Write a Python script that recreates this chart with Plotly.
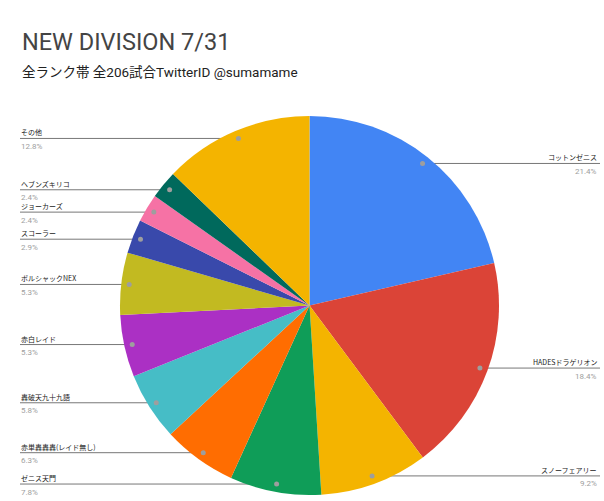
import math
import plotly.graph_objects as go

labels = ["コットンゼニス", "HADESドラゲリオン", "スノーフェアリー", "ゼニス天門",
          "赤単轟轟轟(レイド無し)", "轟破天九十九語", "赤白レイド", "ボルシャックNEX",
          "スコーラー", "ジョーカーズ", "ヘブンズキリコ", "その他"]
values = [21.4, 18.4, 9.2, 7.8, 6.3, 5.8, 5.3, 5.3, 2.9, 2.4, 2.4, 12.8]
colors = ["#4285F4", "#DB4437", "#F4B400", "#0F9D58", "#FF6D01", "#46BDC6",
          "#AB30C4", "#C2BA21", "#3949AB", "#F672A5", "#00695C", "#F4B400"]

W, H = 604, 501
# pie geometry in pixels
cx, cy, R = 309.5, 305.5, 189.5

fig = go.Figure()
fig.add_trace(go.Pie(
    labels=labels, values=values, sort=False, direction="clockwise", rotation=0,
    marker=dict(colors=colors, line=dict(width=0)),
    textinfo="none", hoverinfo="label+percent", showlegend=False,
    domain=dict(x=[(cx - R) / W, (cx + R) / W], y=[1 - (cy + R) / H, 1 - (cy - R) / H]),
))

total = sum(values)
cum = 0.0
shapes, annotations = [], []
for lab, v in zip(labels, values):
    mid = (cum + v / 2) / total * 2 * math.pi
    cum += v
    r = R * 0.958
    px = cx + r * math.sin(mid)
    py = cy - r * math.cos(mid)
    pct = f"{v / total * 100:.1f}%"
    if math.sin(mid) >= 0:
        x0, x1, tx, anchor = px, 600, 598, "right"
    else:
        x0, x1, tx, anchor = 20, px, 20, "left"
    shapes.append(dict(type="line", xref="x", yref="y", x0=x0, x1=x1, y0=py, y1=py,
                       line=dict(color="#777777", width=1), layer="below"))
    shapes.append(dict(type="circle", xref="x", yref="y", x0=px - 2.5, x1=px + 2.5,
                       y0=py - 2.5, y1=py + 2.5, fillcolor="#9e9e9e",
                       line=dict(width=0), layer="above"))
    annotations.append(dict(x=tx, y=py - 6, xref="x", yref="y", text=lab, showarrow=False,
                            xanchor=anchor, yanchor="middle", borderpad=0,
                            font=dict(size=7, color="#222222", family="Noto Sans CJK JP")))
    annotations.append(dict(x=tx, y=py + 8, xref="x", yref="y", text=pct, showarrow=False,
                            xanchor=anchor, yanchor="middle", borderpad=0,
                            font=dict(size=8, color="#9e9e9e", family="Roboto")))

annotations.append(dict(x=20, y=42, xref="x", yref="y", text="NEW DIVISION 7/31", showarrow=False,
                        xanchor="left", yanchor="middle",
                        font=dict(size=23.5, color="#444444", family="Roboto")))
annotations.append(dict(x=20, y=72, xref="x", yref="y", text="全ランク帯 全206試合TwitterID @sumamame",
                        showarrow=False, xanchor="left", yanchor="middle",
                        font=dict(size=13.5, color="#222222", family="Roboto, Noto Sans CJK JP")))

fig.update_layout(
    width=W, height=H, margin=dict(l=0, r=0, t=0, b=0),
    paper_bgcolor="white", plot_bgcolor="rgba(0,0,0,0)",
    xaxis=dict(range=[0, W], visible=False, domain=[0, 1], fixedrange=True),
    yaxis=dict(range=[H, 0], visible=False, domain=[0, 1], fixedrange=True),
    shapes=shapes, annotations=annotations,
)
fig.write_html("out.html")
